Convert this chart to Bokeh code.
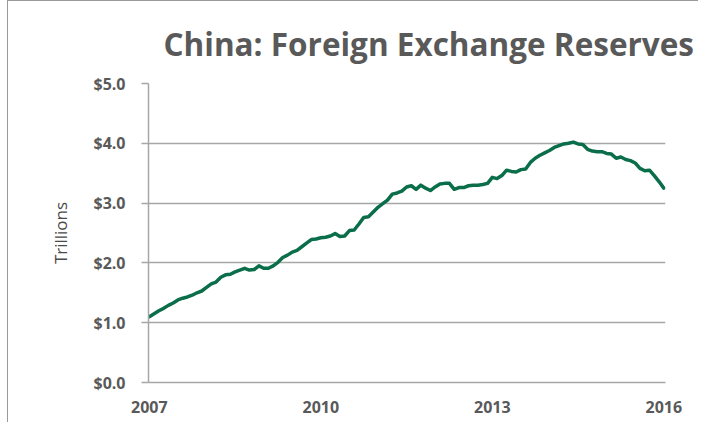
from bokeh.plotting import figure
from bokeh.models import FixedTicker, Range1d, PrintfTickFormatter
from bokeh.embed import file_html
from bokeh.resources import INLINE

# Monthly foreign exchange reserves, trillions USD (Jan 2007 .. Jan 2016)
reserves_2007 = [1.10, 1.15, 1.20, 1.24, 1.29, 1.33, 1.38, 1.41, 1.43, 1.46, 1.50, 1.53]
reserves_2008 = [1.59, 1.65, 1.68, 1.76, 1.80, 1.81, 1.85, 1.88, 1.91, 1.88, 1.89, 1.95]
reserves_2009 = [1.91, 1.91, 1.95, 2.01, 2.09, 2.13, 2.18, 2.21, 2.27, 2.33, 2.39, 2.40]
reserves_2010 = [2.42, 2.43, 2.45, 2.49, 2.44, 2.45, 2.54, 2.55, 2.65, 2.76, 2.77, 2.85]
reserves_2011 = [2.93, 2.99, 3.05, 3.15, 3.17, 3.20, 3.27, 3.29, 3.23, 3.30, 3.25, 3.21]
reserves_2012 = [3.27, 3.32, 3.33, 3.33, 3.23, 3.26, 3.26, 3.29, 3.30, 3.30, 3.31, 3.33]
reserves_2013 = [3.43, 3.41, 3.46, 3.55, 3.53, 3.52, 3.56, 3.57, 3.68, 3.75, 3.80, 3.84]
reserves_2014 = [3.88, 3.93, 3.96, 3.99, 4.00, 4.02, 3.99, 3.98, 3.90, 3.87, 3.86, 3.86]
reserves_2015 = [3.83, 3.82, 3.75, 3.77, 3.73, 3.71, 3.67, 3.58, 3.54, 3.55, 3.46, 3.36]
reserves_2016 = [3.25]

values = (reserves_2007 + reserves_2008 + reserves_2009 + reserves_2010 + reserves_2011
          + reserves_2012 + reserves_2013 + reserves_2014 + reserves_2015 + reserves_2016)
start_year = 2007
months = [start_year + k / 12 for k in range(len(values))]

x_ticks = [2007, 2010, 2013, 2016]
y_ticks = [0, 1, 2, 3, 4, 5]

TEXT = "#595959"
GRID = "#a6a6a6"
FONT = "Open Sans"

p = figure(width=691, height=422, output_backend="svg", toolbar_location=None,
           x_range=Range1d(2006.985, 2016.03), y_range=Range1d(0, 5),
           min_border_left=140, min_border_right=34, min_border_top=81, min_border_bottom=41,
           title="China: Foreign Exchange Reserves")
p.styles = {"margin-left": "7px", "border-left": "1px solid #9a9a9a", "border-top": "1px solid #9a9a9a"}

p.title.text_font = FONT
p.title.text_font_size = "31.5px"
p.title.text_font_style = "bold"
p.title.text_color = TEXT
p.title.align = "left"
p.title.offset = 15
p.title.standoff = 37

p.line(months, values, line_color="#0b6e4b", line_width=3.5, line_join="round", line_cap="round")

p.outline_line_color = None
p.xgrid.visible = False
p.ygrid.grid_line_color = GRID
p.ygrid.grid_line_width = 1.5
p.ygrid.ticker = FixedTicker(ticks=y_ticks)

p.yaxis.ticker = FixedTicker(ticks=y_ticks)
p.yaxis.formatter = PrintfTickFormatter(format="$%.1f")
p.yaxis.axis_label = "Trillions"
p.yaxis.axis_label_text_font = FONT
p.yaxis.axis_label_text_font_size = "17px"
p.yaxis.axis_label_text_font_style = "normal"
p.yaxis.axis_label_text_color = "#4a4a4a"
p.yaxis.axis_label_standoff = 18
p.yaxis.major_tick_out = 7
p.yaxis.major_tick_in = 0
p.yaxis.minor_tick_line_color = None
p.yaxis.major_tick_line_color = GRID
p.yaxis.major_tick_line_width = 1.5
p.yaxis.axis_line_color = GRID
p.yaxis.axis_line_width = 1.5
p.yaxis.major_label_standoff = 16

p.xaxis.ticker = FixedTicker(ticks=x_ticks)
p.xaxis.major_tick_line_color = None
p.xaxis.minor_tick_line_color = None
p.xaxis.axis_line_color = GRID
p.xaxis.axis_line_width = 1.5
p.xaxis.major_label_standoff = 12

for ax in (p.xaxis, p.yaxis):
    ax.major_label_text_font = FONT
    ax.major_label_text_font_size = "16px"
    ax.major_label_text_font_style = "bold"
    ax.major_label_text_color = TEXT

open("out.html", "w").write(file_html(p, INLINE))
